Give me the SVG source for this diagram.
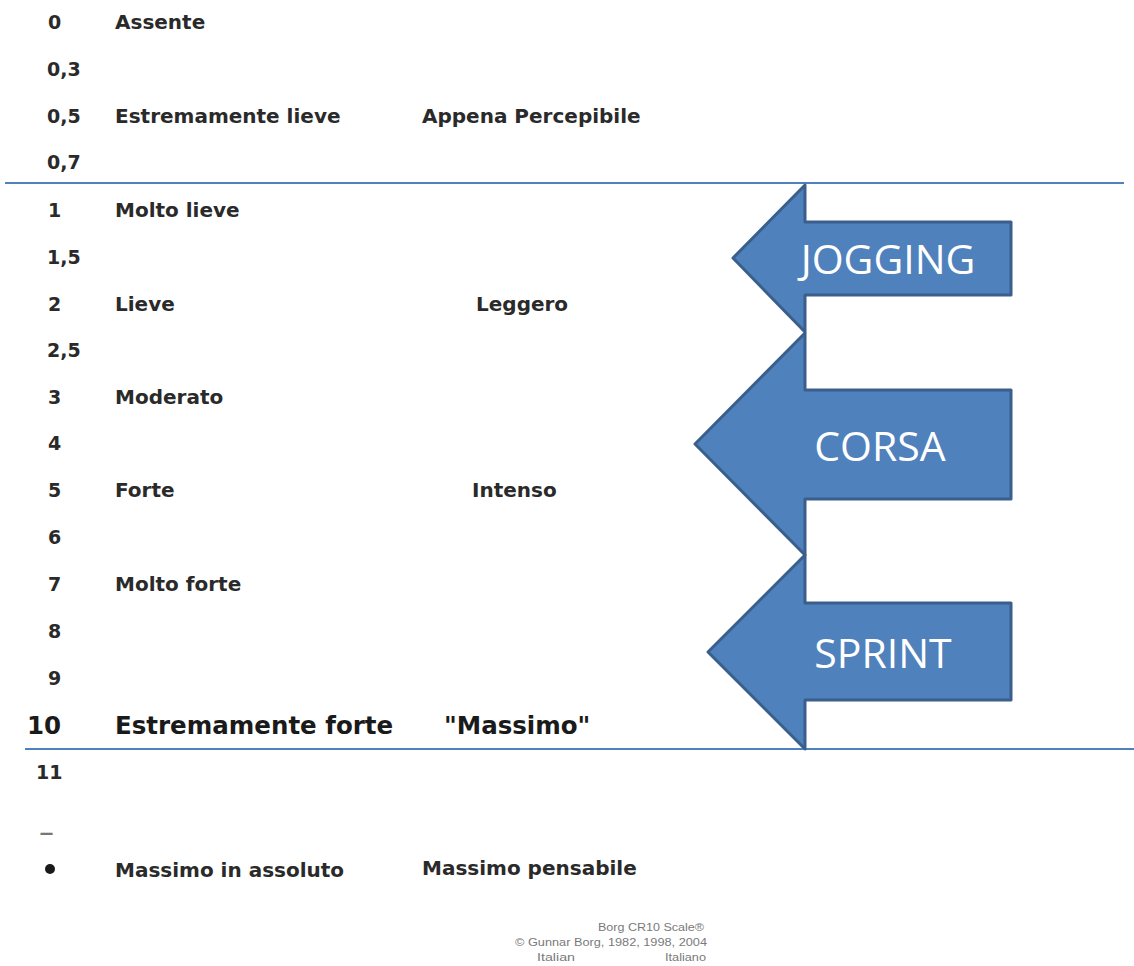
<svg xmlns="http://www.w3.org/2000/svg" width="1134" height="966" viewBox="0 0 1134 966">
<style>
.t{font-family:"DejaVu Sans",sans-serif;font-weight:bold;font-size:20px;fill:#2a2a2a}
.n{font-size:19px}
.big{font-size:24.5px;fill:#1a1a1a}
.rule{stroke:#4F81BD;stroke-width:2;fill:none}
.arrow{fill:#4F81BD;stroke:#3A5F8C;stroke-width:3;stroke-linejoin:round}
.lbl{font-family:"Open Sans","Liberation Sans",sans-serif;font-size:41px;fill:#ffffff;text-anchor:middle}
.copy{font-family:"Liberation Sans",sans-serif;font-size:10px;fill:#7a7a7a}
</style>
<rect width="1134" height="966" fill="#ffffff"/>
<g id="scale">
<text class="t n" x="48" y="29">0</text><text class="t" x="115" y="29">Assente</text>
<text class="t n" x="47" y="76">0,3</text>
<text class="t n" x="47" y="123">0,5</text><text class="t" x="115" y="123">Estremamente lieve</text><text class="t" x="422" y="123">Appena Percepibile</text>
<text class="t n" x="47" y="169">0,7</text>
<text class="t n" x="48" y="217">1</text><text class="t" x="115" y="217">Molto lieve</text>
<text class="t n" x="47" y="264">1,5</text>
<text class="t n" x="48" y="311">2</text><text class="t" x="115" y="311">Lieve</text><text class="t" x="476" y="311">Leggero</text>
<text class="t n" x="47" y="357">2,5</text>
<text class="t n" x="48" y="404">3</text><text class="t" x="115" y="404">Moderato</text>
<text class="t n" x="48" y="450">4</text>
<text class="t n" x="48" y="497">5</text><text class="t" x="115" y="497">Forte</text><text class="t" x="472" y="497">Intenso</text>
<text class="t n" x="48" y="544">6</text>
<text class="t n" x="48" y="591">7</text><text class="t" x="115" y="591">Molto forte</text>
<text class="t n" x="48" y="638">8</text>
<text class="t n" x="48" y="685">9</text>
<text class="t big" x="27" y="734">10</text><text class="t big" x="115" y="734">Estremamente forte</text><text class="t big" x="444" y="734">"Massimo"</text>
<text class="t n" x="36" y="779">11</text>
<text class="t" x="39" y="842" style="font-size:30px;fill:#777777;font-weight:normal">–</text>
<circle cx="50" cy="869" r="5" fill="#1a1a1a"/>
<text class="t" x="115" y="877">Massimo in assoluto</text><text class="t" x="422" y="875">Massimo pensabile</text>
</g>
<g id="rules">
<line class="rule" x1="5" y1="183" x2="1124" y2="183"/>
<line class="rule" x1="25" y1="749" x2="1134" y2="749"/>
</g>
<g id="jogging">
<path class="arrow" d="M733,258 L805,185 L805,222 L1011,222 L1011,295 L805,295 L805,332 Z"/>
<text class="lbl" x="888" y="274">JOGGING</text>
</g>
<g id="corsa">
<path class="arrow" d="M695,444 L805,333 L805,390 L1011,390 L1011,499 L805,499 L805,555 Z"/>
<text class="lbl" x="880" y="461">CORSA</text>
</g>
<g id="sprint">
<path class="arrow" d="M708,652 L805,555 L805,603 L1011,603 L1011,700 L805,700 L805,749 Z"/>
<text class="lbl" x="883" y="668">SPRINT</text>
</g>
<g id="copyright">
<text class="copy" x="598" y="931" textLength="106" lengthAdjust="spacingAndGlyphs">Borg CR10 Scale®</text>
<text class="copy" x="515" y="946" textLength="192" lengthAdjust="spacingAndGlyphs">© Gunnar Borg, 1982, 1998, 2004</text>
<text class="copy" x="537" y="961" textLength="38" lengthAdjust="spacingAndGlyphs">Italian</text>
<text class="copy" x="665" y="961" textLength="41" lengthAdjust="spacingAndGlyphs">Italiano</text>
</g>
</svg>
